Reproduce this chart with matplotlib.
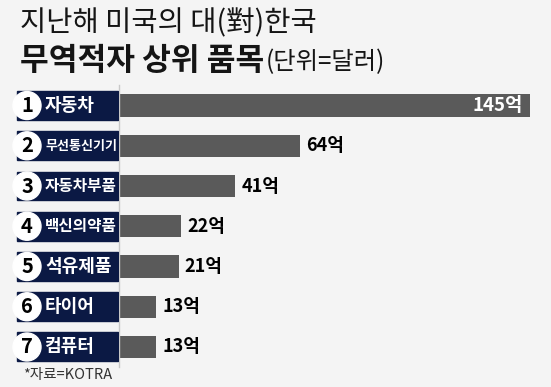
import matplotlib.pyplot as plt
from matplotlib.patches import Rectangle, Ellipse

plt.rcParams['font.family'] = ['Noto Sans CJK KR', 'DejaVu Sans']

# data
items = ["자동차", "무선통신기기", "자동차부품", "백신의약품", "석유제품", "타이어", "컴퓨터"]
values = [145, 64, 41, 22, 21, 13, 13]
ranks = [1, 2, 3, 4, 5, 6, 7]
title1 = "지난해 미국의 대(對)한국"
title2 = "무역적자 상위 품목"
unit = "(단위=달러)"
source = "*자료=KOTRA"

BG = "#f4f4f4"
NAVY = "#0b1944"
BAR = "#5a5a5a"

W, H = 551, 387
fig = plt.figure(figsize=(W / 100, H / 100), dpi=100, facecolor=BG)

# bar axes, pixel layout: left spine at x=119, rows from y=85 to y=367
top_px, bot_px = 85.4, 367.1
ax = fig.add_axes([119 / W, 1 - bot_px / H, (W - 119) / W, (bot_px - top_px) / H])
ax.set_facecolor("none")
ypos = list(range(len(items)))
ax.barh(ypos, values, height=0.55, color=BAR, zorder=2)
ax.set_xlim(0, (W - 119) / 2.834)
ax.set_ylim(len(items) - 0.5, -0.5)
for s in ["top", "right", "bottom"]:
    ax.spines[s].set_visible(False)
ax.spines["left"].set_color("#c8c8c8")
ax.spines["left"].set_linewidth(1.0)
ax.set_xticks([])
ax.set_yticks([])

vmax = max(values)
for y, v in zip(ypos, values):
    if v == vmax:
        ax.text(v - 2.5, y, f"{v}억", ha="right", va="center", color="white",
                fontsize=13.5, fontweight="bold")
    else:
        ax.text(v + 2.2, y, f"{v}억", ha="left", va="center", color="black",
                fontsize=13, fontweight="bold")

# label boxes, x in pixels
lab = fig.add_axes([0, 1 - bot_px / H, 119 / W, (bot_px - top_px) / H], sharey=ax)
lab.set_xlim(0, 119)
lab.axis("off")
for y, r, name in zip(ypos, ranks, items):
    lab.add_patch(Rectangle((17, y - 0.36), 101, 0.72, color=NAVY, zorder=1))
    lab.add_patch(Ellipse((27, y), 28, 28 / 40.25, color="white", zorder=2))
    lab.text(27, y, str(r), ha="center", va="center", fontsize=14.5,
             fontweight="bold", color="black", zorder=3)
    size = min(13, 68 / len(name) / 0.87 * 0.72)
    lab.text(45, y, name, ha="left", va="center", fontsize=size,
             fontweight="bold", color="white", zorder=3)

# titles
fig.text(20 / W, 1 - 23 / H, title1, ha="left", va="center", fontsize=20.5,
         fontweight="medium", color="#151515")
t2 = fig.text(20 / W, 1 - 61 / H, title2, ha="left", va="center", fontsize=22.5,
              fontweight="bold", color="#151515")
fig.canvas.draw()
bb = t2.get_window_extent()
fig.text(bb.x1 / W + 1 / W, 1 - 62 / H, unit, ha="left", va="center",
         fontsize=17.5, color="#151515")

fig.text(23 / W, 1 - 375 / H, source, ha="left", va="center", fontsize=10.5,
         color="#333333")

fig.savefig("out.png", dpi=100, facecolor=BG)
